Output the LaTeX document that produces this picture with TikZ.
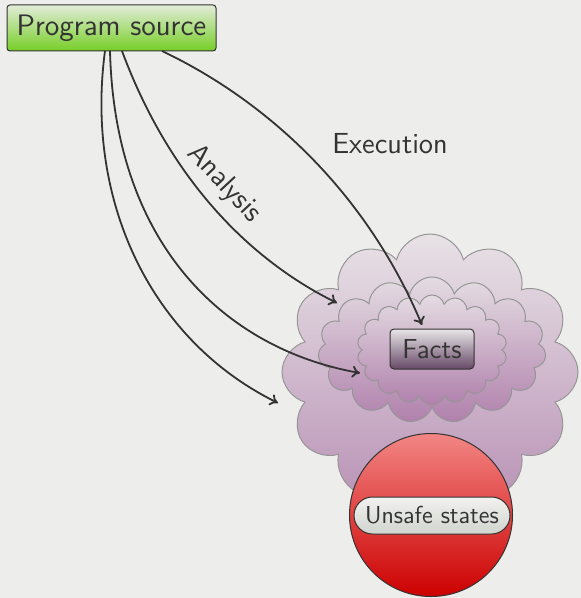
\documentclass[tikz,border=0pt]{standalone}
\usepackage{fontspec}
\usetikzlibrary{shapes.symbols,shapes.misc,arrows.meta}
\definecolor{bgcol}{RGB}{237,237,235}
\definecolor{ink}{RGB}{51,51,51}
\definecolor{edgegray}{RGB}{150,150,150}
\definecolor{greentop}{RGB}{226,236,216}
\definecolor{greenbot}{RGB}{118,206,38}
\definecolor{cloudtop}{RGB}{232,226,230}
\definecolor{cloudbot}{RGB}{184,144,181}
\definecolor{midtop}{RGB}{228,220,226}
\definecolor{midbot}{RGB}{176,128,172}
\definecolor{factstop}{RGB}{232,230,232}
\definecolor{factsbot}{RGB}{102,72,102}
\definecolor{redtop}{RGB}{242,134,132}
\definecolor{redbot}{RGB}{204,0,0}
\definecolor{pilltop}{RGB}{242,242,240}
\definecolor{pillbot}{RGB}{208,212,206}
\tikzset{
  lbl/.style={text=ink,font=\sffamily\fontsize{14.5}{16}\selectfont},
  srcbox/.style={draw=ink,line width=0.5pt,rounded corners=1.5pt,
    top color=greentop,bottom color=greenbot,
    minimum width=104.5pt,minimum height=23pt,inner sep=0pt,lbl,
    font=\sffamily\fontsize{14.8}{16}\selectfont},
  puff/.style={cloud,cloud ignores aspect,draw=edgegray,line width=0.5pt,inner sep=0pt},
  factbox/.style={draw=ink,line width=0.5pt,rounded corners=2pt,
    top color=factstop,bottom color=factsbot,
    minimum width=42pt,minimum height=20pt,inner sep=0pt,lbl,font=\sffamily\fontsize{13.7}{16}\selectfont},
  badzone/.style={circle,draw=ink,line width=0.5pt,top color=redtop,bottom color=redbot,
    minimum size=81.5pt,inner sep=0pt},
  pill/.style={rounded rectangle,draw=ink,line width=0.5pt,top color=pilltop,bottom color=pillbot,
    minimum width=78pt,minimum height=18.5pt,inner sep=0pt,lbl,font=\sffamily\fontsize{12.3}{14}\selectfont},
  flow/.style={draw=ink,line width=0.9pt,-{To[length=4pt,width=6pt]}},
}
\begin{document}
\begin{tikzpicture}[x=0.5pt,y=-0.5pt]
\useasboundingbox[fill=bgcol] (0,0) rectangle (581,598);

% nested clouds of facts
\node[puff,cloud puffs=12,top color=cloudtop,bottom color=cloudbot,
  minimum width=148pt,minimum height=138pt] (outer) at (430,372) {};
\node[puff,cloud puffs=15,top color=midtop,bottom color=midbot,
  minimum width=114pt,minimum height=73pt] (middle) at (432,350) {};
\node[puff,cloud puffs=18,top color=midtop,bottom color=midbot,
  minimum width=75pt,minimum height=55pt] (inner) at (432,350) {};

\node[factbox] (facts) at (432,349) {Facts};

% unsafe region
\node[badzone] (unsafe) at (431,515) {};
\node[pill] (unsafelbl) at (432,515.5) {Unsafe states};

% program source
\node[srcbox] (src) at (111.5,28) {Program source};

\coordinate (sA) at (105,51);
\coordinate (sB) at (110,51);
\coordinate (sC) at (122,51);
\coordinate (sD) at (162,51);
\coordinate (tA) at (278,403);
\coordinate (tB) at (360,373);
\coordinate (tC) at (337,303);
\coordinate (tD) at (422,325);

\draw[flow] (sA) .. controls (85,200) and (150,340) .. (tA);
\draw[flow] (sB) .. controls (115,250) and (230,350) .. (tB);
\draw[flow] (sC) .. controls (170,180) and (250,260) .. (tC);
\draw[flow] (sD) .. controls (265,100) and (365,190) .. (tD);

\node[lbl,rotate=-47] (analysis) at (224,184) {Analysis};
\node[lbl] (execution) at (390,144) {Execution};
\end{tikzpicture}
\end{document}
